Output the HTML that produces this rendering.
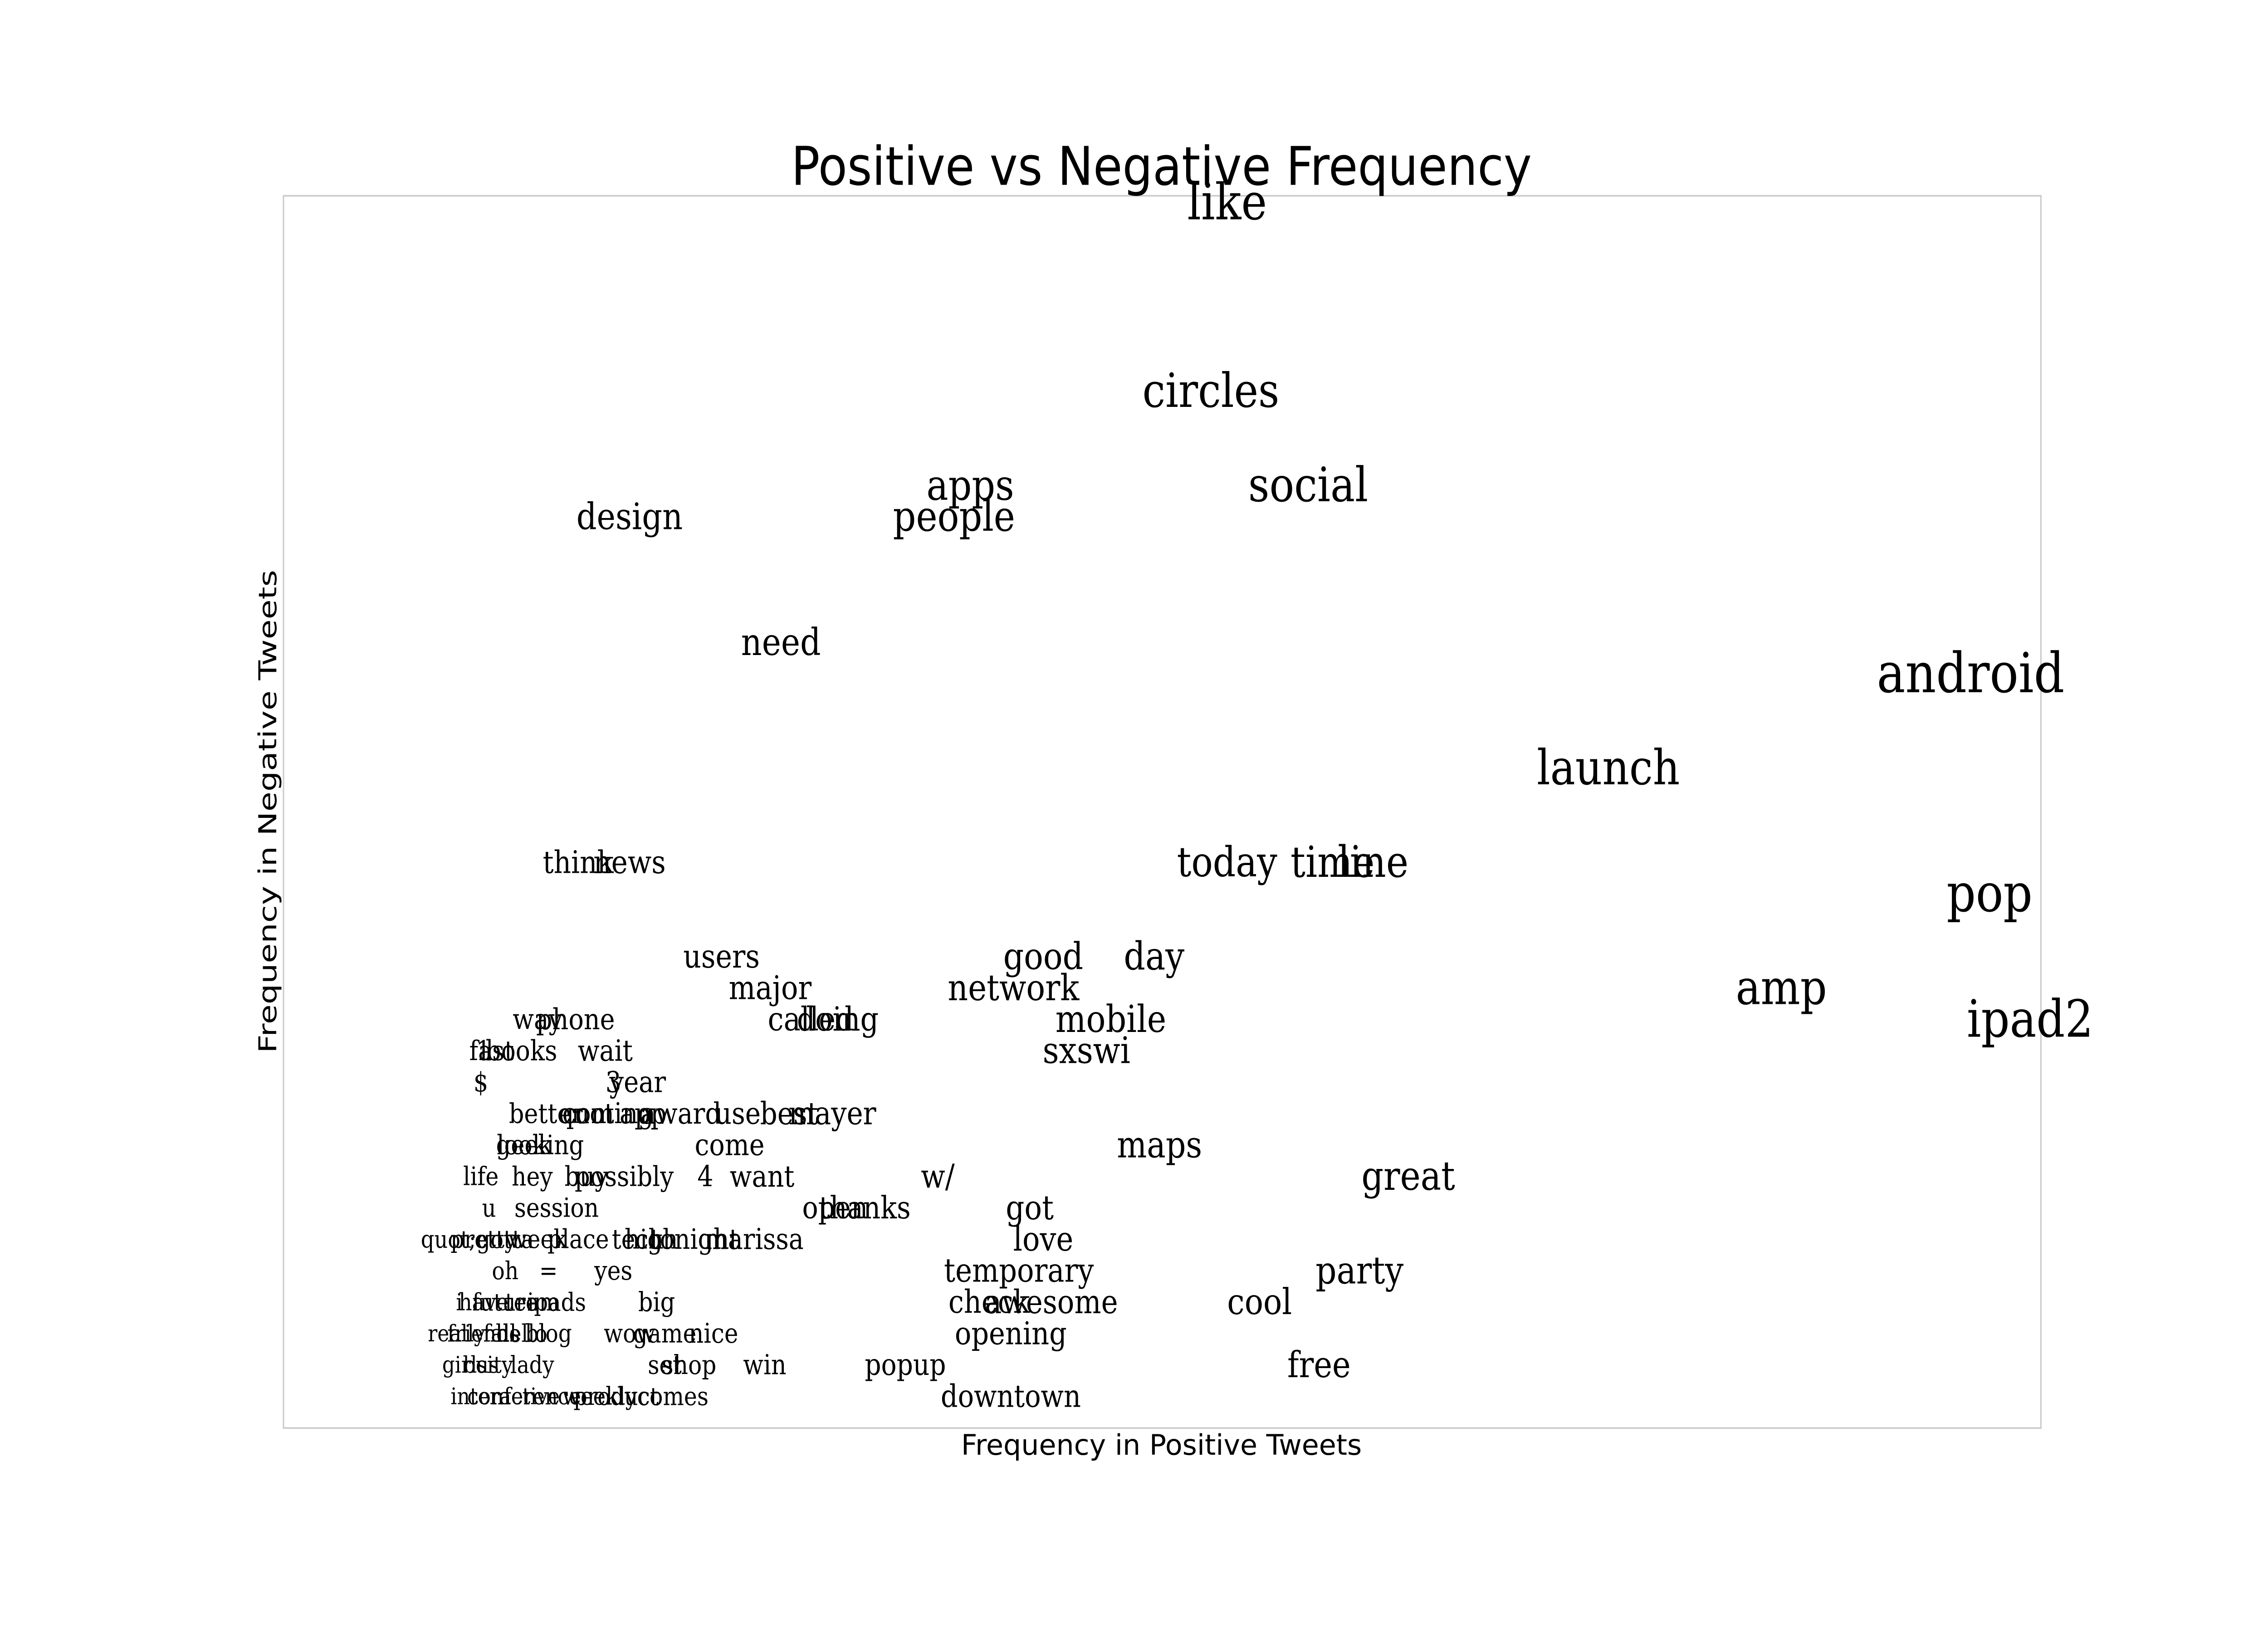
<!DOCTYPE html>
<html><head><meta charset="utf-8"><style>
html,body{margin:0;padding:0;background:#fff;width:100%;height:100%;overflow:hidden;}
svg{display:block;width:100vw;height:100vh;}
</style></head><body>
<svg id="chart" viewBox="0 0 1568 980" preserveAspectRatio="none" xmlns="http://www.w3.org/2000/svg">
<rect x="0" y="0" width="1568" height="980" fill="#fff"/>
<rect x="196" y="117.5" width="1215" height="739.5" fill="none" stroke="#cccccc" stroke-width="1"/>
<text x="803" y="111" text-anchor="middle" font-family="DejaVu Sans, sans-serif" font-size="32" textLength="512" lengthAdjust="spacingAndGlyphs">Positive vs Negative Frequency</text>
<text x="803" y="873" text-anchor="middle" font-family="DejaVu Sans, sans-serif" font-size="17" textLength="277" lengthAdjust="spacingAndGlyphs">Frequency in Positive Tweets</text>
<text transform="translate(191,487) rotate(-90)" text-anchor="middle" font-family="DejaVu Sans, sans-serif" font-size="17" textLength="290" lengthAdjust="spacingAndGlyphs">Frequency in Negative Tweets</text>
<g id="words"></g>
</svg>
<script>
const words = ["like","circles","apps","social","design","people","need","android","launch","think","news","today","time","line","pop","users","good","day","major","network","amp","way","phone","called","doing","mobile","ipad2","fast","1","books","wait","sxswi","$","3","year","better","quot","coming","app","award","use","best","mayer","geek","looking","come","maps","life","hey","buy","possibly","4","want","w/","great","u","session","open","thanks","got","quot;","pretty","gotta","week","place","tech","high","tonight","marissa","love","oh","=","yes","temporary","party","i","have","future","team","ipads","big","check","awesome","cool","really","friends","fall","hello","blog","wow","game","nice","opening","girls","bus","city","lady","set","shop","win","popup","free","interactive","conference","weekly","product","comes","downtown"];
const posFreq = [34.9,34.3,25.4,37.9,12.8,24.8,18.4,62.4,49.0,10.9,12.8,34.9,38.8,40.3,63.1,16.2,28.1,32.2,18.0,27.0,55.4,9.4,10.8,19.5,20.5,30.6,64.6,7.7,7.4,8.8,11.9,29.7,7.3,12.2,13.1,9.7,11.2,12.0,13.3,14.7,16.8,18.7,20.3,8.9,9.5,16.5,32.4,7.3,9.2,11.2,12.6,15.6,17.7,24.2,41.6,7.6,10.1,20.4,21.5,27.6,6.1,7.4,8.2,9.4,10.9,13.1,13.6,15.2,17.4,28.1,8.2,9.8,12.2,27.2,39.8,6.5,7.4,8.2,9.2,10.1,13.8,26.1,28.4,36.1,6.4,7.4,8.0,8.8,9.8,12.8,14.1,15.9,26.9,6.7,7.3,7.8,9.2,14.1,15.0,17.8,23.0,38.3,8.2,8.9,11.7,12.3,14.4,26.9];
const negFreq = [39,33,30,30,29,29,25,24,21,18,18,18,18,18,17,15,15,15,14,14,14,13,13,13,13,13,13,12,12,12,12,12,11,11,11,10,10,10,10,10,10,10,10,9,9,9,9,8,8,8,8,8,8,8,8,7,7,7,7,7,6,6,6,6,6,6,6,6,6,6,5,5,5,5,5,4,4,4,4,4,4,4,4,4,3,3,3,3,3,3,3,3,3,2,2,2,2,2,2,2,2,2,1,1,1,1,1,1];
const xTicksRange = [0, 65];
const yTicksRange = [0, 39.2];

function xScale(v){ return 196 + (v - xTicksRange[0]) / (xTicksRange[1] - xTicksRange[0]) * 1215; }
function yScale(v){ return 857 - (v - yTicksRange[0]) / (yTicksRange[1] - yTicksRange[0]) * 739; }
function sizeScale(p, n){ return 11.5 + 0.25 * (p + n); }

const g = document.getElementById('words');
const NS = 'http://www.w3.org/2000/svg';
for (let i = 0; i < words.length; i++) {
  const t = document.createElementNS(NS, 'text');
  t.setAttribute('x', xScale(posFreq[i]));
  t.setAttribute('y', yScale(negFreq[i]));
  t.setAttribute('dy', '0.33em');
  t.setAttribute('text-anchor', 'middle');
  t.setAttribute('font-family', 'DejaVu Serif, Liberation Serif, serif');
  t.setAttribute('font-size', sizeScale(posFreq[i], negFreq[i]).toFixed(2));
  t.setAttribute('fill', '#000');
  
  
  t.textContent = words[i];
  g.appendChild(t);
}
</script>
</body></html>
